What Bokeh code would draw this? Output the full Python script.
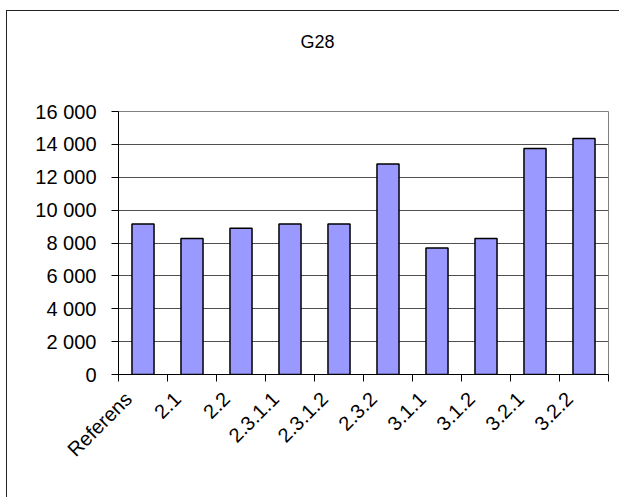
from bokeh.plotting import figure
from bokeh.models import (FactorRange, Range1d, LinearAxis, FixedTicker,
                          ColumnDataSource, Title)
from bokeh.embed import file_html
from bokeh.resources import INLINE
from math import pi

title_text = "G28"
categories = ["Referens", "2.1", "2.2", "2.3.1.1", "2.3.1.2", "2.3.2", "3.1.1", "3.1.2", "3.2.1", "3.2.2"]
values = [9150, 8270, 8900, 9150, 9150, 12800, 7700, 8270, 13750, 14350]
y_ticks = [0, 2000, 4000, 6000, 8000, 10000, 12000, 14000, 16000]
y_tick_labels = ["0", "2 000", "4 000", "6 000", "8 000", "10 000", "12 000", "14 000", "16 000"]

FONT = "Liberation Sans"
LABEL_SHIFT = 0.3   # Excel-style rotated labels sit a little left of the category centre

p = figure(width=613, height=487, output_backend="svg", toolbar_location=None,
           x_range=FactorRange(*categories, range_padding=0), y_range=Range1d(0, 16000),
           x_axis_location=None, y_axis_location="left",
           min_border_left=111, min_border_right=12, min_border_top=100, min_border_bottom=124)
p.margin = (10, 0, 0, 6)
p.styles = {"border-left": "1px solid #222222", "border-top": "1px solid #222222"}

p.background_fill_color = "white"
p.border_fill_color = "white"
p.outline_line_color = "#808080"
p.outline_line_width = 1

# trailing empty lines lift the title towards the top of the chart area
p.add_layout(Title(text=title_text + "\n\n\n", align="left", offset=182, standoff=0,
                   text_font=FONT, text_font_size="18px", text_font_style="normal",
                   text_color="black"), "above")

# y axis
ya = p.yaxis[0]
ya.ticker = FixedTicker(ticks=y_ticks)
ya.major_label_overrides = {t: l for t, l in zip(y_ticks, y_tick_labels)}
ya.axis_line_color = "black"
ya.major_tick_line_color = "black"
ya.major_tick_in = 0
ya.major_tick_out = 7
ya.minor_tick_line_color = None
ya.major_label_standoff = 15
ya.major_label_text_font = FONT
ya.major_label_text_font_size = "20px"
ya.major_label_text_color = "black"

p.ygrid.ticker = FixedTicker(ticks=y_ticks)
p.ygrid.grid_line_color = "#505050"
p.xgrid.grid_line_color = None

# x tick axis at category boundaries (synthetic coordinates of the factor range)
n = len(categories)
bounds = list(range(n + 1))
tick_axis = LinearAxis(ticker=FixedTicker(ticks=bounds),
                       major_label_text_font_size="0px", major_label_standoff=0,
                       axis_line_color="black", major_tick_line_color="black",
                       major_tick_in=0, major_tick_out=7, minor_tick_line_color=None)
tick_axis.major_label_overrides = {i: "" for i in bounds}
p.add_layout(tick_axis, "below")

# category labels, rotated 45 degrees
label_pos = [round(i + 0.5 - LABEL_SHIFT, 3) for i in range(n)]
lab_axis = LinearAxis(ticker=FixedTicker(ticks=label_pos),
                      axis_line_color=None, major_tick_line_color=None, minor_tick_line_color=None,
                      major_label_orientation=pi / 4, major_label_standoff=8,
                      major_label_text_font=FONT, major_label_text_font_size="20px",
                      major_label_text_color="black")
lab_axis.major_label_overrides = {pos: c for pos, c in zip(label_pos, categories)}
p.add_layout(lab_axis, "below")

src = ColumnDataSource(dict(cat=categories, val=values))
p.vbar(x="cat", top="val", width=0.45, source=src, fill_color="#9999FF",
       line_color="black", line_width=1.5)

open("out.html", "w").write(file_html(p, INLINE))
